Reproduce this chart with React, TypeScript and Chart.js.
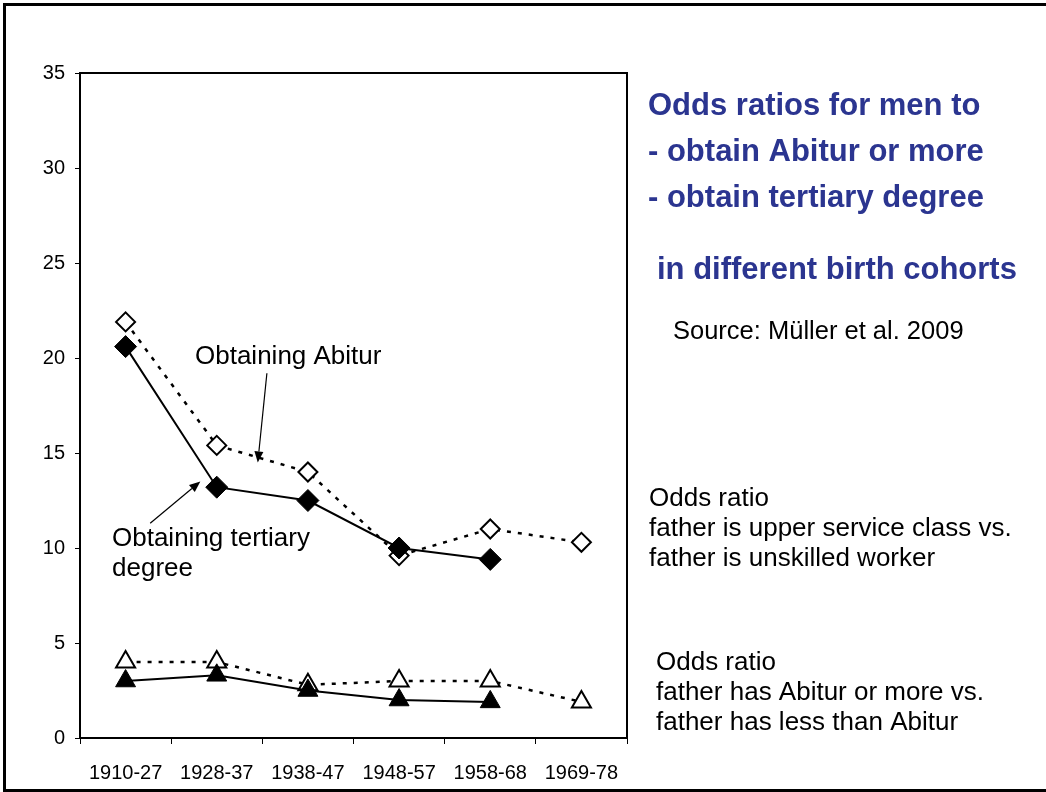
import React, { useEffect, useRef } from "react";
import { Chart, registerables } from "chart.js";

Chart.register(...registerables);

// ---- data ----
const categories = ["1910-27", "1928-37", "1938-47", "1948-57", "1958-68", "1969-78"];
// father upper service class vs. unskilled worker
const abiturUpper = [21.9, 15.4, 14.0, 9.6, 11.0, 10.3];
const tertiaryUpper = [20.6, 13.2, 12.5, 10.0, 9.4, null];
// father has Abitur or more vs. less than Abitur
const abiturFather = [4.0, 4.0, 2.8, 3.0, 3.0, 1.9];
const tertiaryFather = [3.0, 3.3, 2.5, 2.0, 1.9, null];
const yMin = 0;
const yMax = 35;
const yStep = 5;

const titleLines = [
  "Odds ratios for men to",
  "- obtain Abitur or more",
  "- obtain tertiary degree",
];
const titleLine4 = "in different birth cohorts";
const sourceText = "Source: Müller et al. 2009";
const blockA = ["Odds ratio", "father is upper service class vs.", "father is unskilled worker"];
const blockB = ["Odds ratio", "father has Abitur or more vs.", "father has less than Abitur"];
const annoAbitur = "Obtaining Abitur";
const annoTertiary = ["Obtaining tertiary", "degree"];

const FONT = '"Liberation Sans", Arial, Helvetica, sans-serif';
const NAVY = "#2B3590";

function arrow(ctx: CanvasRenderingContext2D, x1: number, y1: number, x2: number, y2: number) {
  const ang = Math.atan2(y2 - y1, x2 - x1);
  const hl = 11;
  const hw = 4.5;
  const bx = x2 - Math.cos(ang) * hl;
  const by = y2 - Math.sin(ang) * hl;
  ctx.beginPath();
  ctx.moveTo(x1, y1);
  ctx.lineTo(bx, by);
  ctx.lineWidth = 1.2;
  ctx.strokeStyle = "#000";
  ctx.stroke();
  ctx.beginPath();
  ctx.moveTo(x2, y2);
  ctx.lineTo(bx + Math.sin(ang) * hw, by - Math.cos(ang) * hw);
  ctx.lineTo(bx - Math.sin(ang) * hw, by + Math.cos(ang) * hw);
  ctx.closePath();
  ctx.fillStyle = "#000";
  ctx.fill();
}

const decorPlugin = {
  id: "decor",
  afterDraw(chart: any) {
    const { ctx, chartArea, scales } = chart;
    const xs = scales.x;
    const ys = scales.y;
    ctx.save();
    // outer frame
    ctx.strokeStyle = "#000";
    ctx.lineWidth = 3;
    ctx.strokeRect(4.5, 4.5, 1060, 786);
    // plot box top/right
    ctx.lineWidth = 2;
    ctx.beginPath();
    ctx.moveTo(chartArea.left, chartArea.top);
    ctx.lineTo(chartArea.right, chartArea.top);
    ctx.lineTo(chartArea.right, chartArea.bottom);
    ctx.stroke();

    // arrows anchored to the data scales
    arrow(ctx, xs.getPixelForValue(1.55), ys.getPixelForValue(19.2), xs.getPixelForValue(1.45), ys.getPixelForValue(14.5));
    arrow(ctx, xs.getPixelForValue(0.27), ys.getPixelForValue(11.3), xs.getPixelForValue(0.82), ys.getPixelForValue(13.5));

    // annotations
    ctx.fillStyle = "#000";
    ctx.textBaseline = "alphabetic";
    ctx.textAlign = "left";
    ctx.font = `26px ${FONT}`;
    ctx.fillText(annoAbitur, 195, 364);
    ctx.fillText(annoTertiary[0], 112, 546);
    ctx.fillText(annoTertiary[1], 112, 576);

    // title
    ctx.fillStyle = NAVY;
    ctx.font = `bold 31px ${FONT}`;
    titleLines.forEach((t, i) => ctx.fillText(t, 648, 115 + i * 46));
    ctx.fillText(titleLine4, 657, 279);

    ctx.fillStyle = "#000";
    ctx.font = `25.5px ${FONT}`;
    ctx.fillText(sourceText, 673, 339);

    ctx.font = `26px ${FONT}`;
    blockA.forEach((t, i) => ctx.fillText(t, 649, 506 + i * 30));
    blockB.forEach((t, i) => ctx.fillText(t, 656, 670 + i * 30));
    ctx.restore();
  },
};

export default function App() {
  const ref = useRef<HTMLCanvasElement | null>(null);
  useEffect(() => {
    if (!ref.current) return;
    const chart = new Chart(ref.current, {
      type: "line",
      data: {
        labels: categories,
        datasets: [
          {
            label: "Tertiary (upper service)",
            data: tertiaryUpper,
            borderColor: "#000",
            backgroundColor: "#000",
            borderWidth: 2,
            pointStyle: "rectRot",
            pointRadius: 11,
            pointBackgroundColor: "#000",
            pointBorderColor: "#000",
            pointBorderWidth: 1,
            tension: 0,
            spanGaps: false,
          },
          {
            label: "Tertiary (father Abitur)",
            data: tertiaryFather,
            borderColor: "#000",
            backgroundColor: "#000",
            borderWidth: 2,
            pointStyle: "triangle",
            pointRadius: 11.5,
            pointBackgroundColor: "#000",
            pointBorderColor: "#000",
            pointBorderWidth: 1,
            tension: 0,
          },
          {
            label: "Abitur (upper service)",
            data: abiturUpper,
            borderColor: "#000",
            borderWidth: 2.5,
            borderDash: [4, 7],
            pointStyle: "rectRot",
            pointRadius: 9.5,
            pointBackgroundColor: "#fff",
            pointBorderColor: "#000",
            pointBorderWidth: 2,
            tension: 0,
          },
          {
            label: "Abitur (father Abitur)",
            data: abiturFather,
            borderColor: "#000",
            borderWidth: 2.5,
            borderDash: [4, 7],
            pointStyle: "triangle",
            pointRadius: 11,
            pointBackgroundColor: "#fff",
            pointBorderColor: "#000",
            pointBorderWidth: 2,
            tension: 0,
          },
        ],
      },
      options: {
        animation: false,
        responsive: false,
        maintainAspectRatio: false,
        layout: { padding: { left: 0, top: 73, right: 419, bottom: 0 } },
        plugins: { legend: { display: false }, tooltip: { enabled: false } },
        scales: {
          x: {
            type: "category",
            offset: true,
            grid: {
              offset: true,
              drawOnChartArea: false,
              drawTicks: true,
              tickLength: 6,
              color: "#000",
              lineWidth: 1,
            },
            border: { color: "#000", width: 2 },
            ticks: {
              color: "#000",
              font: { family: FONT, size: 20 },
              padding: 17,
              maxRotation: 0,
              autoSkip: false,
            },
            afterFit: (s: any) => {
              s.height = 54;
            },
          },
          y: {
            min: yMin,
            max: yMax,
            grid: {
              drawOnChartArea: false,
              drawTicks: true,
              tickLength: 5,
              color: "#000",
              lineWidth: 1,
            },
            border: { color: "#000", width: 2 },
            ticks: {
              stepSize: yStep,
              color: "#000",
              font: { family: FONT, size: 20 },
              padding: 10,
            },
            afterFit: (s: any) => {
              s.width = 80;
            },
          },
        },
      },
      plugins: [decorPlugin],
    });
    return () => chart.destroy();
  }, []);
  return (
    <div style={{ position: "fixed", left: 0, top: 0, width: 1046, height: 792, background: "#fff" }}>
      <canvas ref={ref} width={1046} height={792} style={{ display: "block", width: 1046, height: 792 }} />
    </div>
  );
}
